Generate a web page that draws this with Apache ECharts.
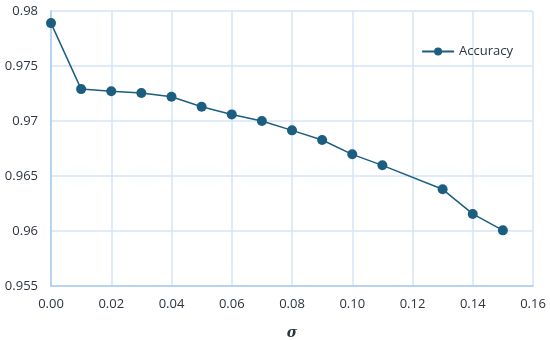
<!DOCTYPE html>
<html>
<head>
<meta charset="utf-8">
<script src="https://cdn.jsdelivr.net/npm/echarts@6/dist/echarts.min.js"></script>
<style>html,body{margin:0;padding:0;background:#fff}#c{width:550px;height:340px}</style>
</head>
<body>
<div id="c"></div>
<script>
var sigma = [0.00, 0.01, 0.02, 0.03, 0.04, 0.05, 0.06, 0.07, 0.08, 0.09, 0.10, 0.11, 0.13, 0.14, 0.15];
var accuracy = [0.9789, 0.9729, 0.9727, 0.97255, 0.9722, 0.9713, 0.9706, 0.9700, 0.96915, 0.96827, 0.96697, 0.96597, 0.96379, 0.96155, 0.96006];
var seriesName = 'Accuracy';
var xAxisName = 'σ';

var chart = echarts.init(document.getElementById('c'), null, {renderer: 'canvas'});
var color = '#1b5e80';
var font = 'Open Sans';
chart.setOption({
  animation: false,
  grid: {left: 51, right: 17, top: 11, bottom: 54, containLabel: false, outerBoundsMode: 'none'},
  legend: {
    data: [seriesName], right: 32, top: 40, itemWidth: 32, itemHeight: 10, itemGap: 3,
    textStyle: {color: '#2b3440', fontSize: 13, fontFamily: font}
  },
  xAxis: {
    type: 'value', min: 0, max: 0.16, interval: 0.02,
    name: xAxisName, nameLocation: 'middle', nameGap: 40,
    nameTextStyle: {fontStyle: 'italic', fontWeight: 'bold', fontSize: 14, color: '#2b3440', fontFamily: 'DejaVu Serif'},
    axisLine: {show: true, lineStyle: {color: '#a9cbee', width: 1.5}},
    axisTick: {show: false},
    axisLabel: {color: '#2b3440', fontSize: 13, fontFamily: font, margin: 12, formatter: function (v) { return v.toFixed(2); }},
    splitLine: {show: true, lineStyle: {color: '#d5e5f6', width: 1.5}}
  },
  yAxis: {
    type: 'value', min: 0.955, max: 0.98, interval: 0.005,
    axisLine: {show: true, lineStyle: {color: '#a9cbee', width: 1.5}},
    axisTick: {show: false},
    axisLabel: {color: '#2b3440', fontSize: 13, fontFamily: font, margin: 13,
      formatter: function (v) { return String(parseFloat(v.toFixed(3))); }},
    splitLine: {show: true, lineStyle: {color: '#d5e5f6', width: 1.5}}
  },
  series: [{
    name: seriesName, type: 'line',
    data: sigma.map(function (s, i) { return [s, accuracy[i]]; }),
    symbol: 'circle', symbolSize: 10,
    itemStyle: {color: color},
    lineStyle: {color: color, width: 1.5}
  }]
});
</script>
</body>
</html>
